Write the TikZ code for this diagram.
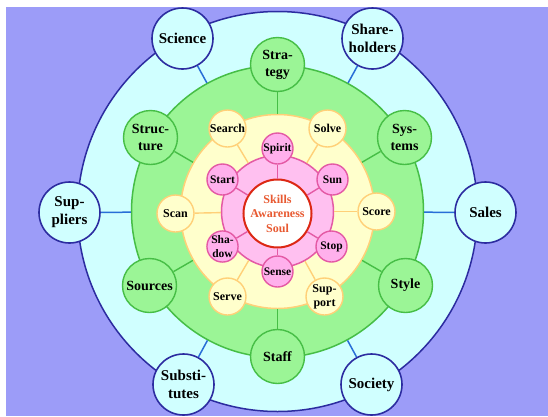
\documentclass[tikz,border=0pt]{standalone}
\usepackage{fontspec}
\setmainfont{Liberation Serif}
\definecolor{lavender}{RGB}{156,156,248}
\definecolor{skycyan}{RGB}{208,255,255}
\definecolor{navyline}{RGB}{44,44,160}
\definecolor{spokeblue}{RGB}{40,110,215}
\definecolor{leaf}{RGB}{155,245,150}
\definecolor{leafline}{RGB}{70,190,70}
\definecolor{cream}{RGB}{255,255,204}
\definecolor{creamline}{RGB}{255,208,120}
\definecolor{rose}{RGB}{255,192,240}
\definecolor{rosenode}{RGB}{255,176,236}
\definecolor{roseline}{RGB}{228,90,165}
\definecolor{soulred}{RGB}{220,40,20}
\definecolor{soultext}{RGB}{232,90,50}

\begin{document}
\begin{tikzpicture}
  [x=1pt,y=1pt,
   every node/.style={circle,inner sep=0pt,align=center},
   disk/.style={line width=1.5pt},
   outer/.style={draw=navyline,fill=skycyan,line width=1.6pt,minimum size=61pt,
     font=\bfseries\fontsize{15}{18}\selectfont},
   greennode/.style={draw=leafline,fill=leaf,line width=1.4pt,minimum size=54pt,
     font=\bfseries\fontsize{14}{17}\selectfont},
   yellownode/.style={draw=creamline,fill=cream,line width=1.4pt,minimum size=37pt,
     font=\bfseries\fontsize{12}{14}\selectfont},
   pinknode/.style={draw=roseline,fill=rosenode,line width=1.4pt,minimum size=31pt,
     font=\bfseries\fontsize{11.5}{13.5}\selectfont},
   skillsnode/.style={draw=soulred,fill=white,line width=2pt,minimum size=68pt,
     text=soultext,font=\bfseries\fontsize{12}{14.5}\selectfont}]
  \useasboundingbox (-277.5,-204.5) rectangle (270.5,211.5);
  \fill[white] (-277.5,-204.5) rectangle (270.5,211.5);
  \fill[lavender] (-271.5,-204.5) rectangle (270.5,204.5);

  \node[disk,draw=navyline,fill=skycyan,minimum size=400pt] (sky) at (0,0) {};
  \node[disk,draw=leafline,fill=leaf,minimum size=292pt] (meadow) at (0,0) {};
  \node[disk,draw=creamline,fill=cream,minimum size=194pt] (sand) at (0,0) {};
  \node[disk,draw=roseline,fill=rose,minimum size=112pt] (petal) at (0,0) {};
  \node[skillsnode] (skills) at (0,-2) {Skills\\Awareness\\Soul};

  \node[outer] (sci) at (-95,173) {Science};
  \node[outer] (share) at (95,173) {Share-\\holders};
  \node[outer] (sup) at (-208,-1) {Sup-\\pliers};
  \node[outer] (sales) at (208,-1) {Sales};
  \node[outer] (subst) at (-94,-173) {Substi-\\tutes};
  \node[outer] (soc) at (94,-173) {Society};

  \node[greennode] (strat) at (0,147) {Stra-\\tegy};
  \node[greennode] (struct) at (-127,74) {Struc-\\ture};
  \node[greennode] (sys) at (127,74) {Sys-\\tems};
  \node[greennode] (src) at (-128,-74) {Sources};
  \node[greennode] (style) at (128,-74) {Style};
  \node[greennode] (staff) at (0,-145) {Staff};

  \node[yellownode] (search) at (-50,83) {Search};
  \node[yellownode] (solve) at (50,83) {Solve};
  \node[yellownode] (scan) at (-102,-2) {Scan};
  \node[yellownode] (score) at (99,0) {Score};
  \node[yellownode] (serve) at (-50,-85) {Serve};
  \node[yellownode] (support) at (47,-85) {Sup-\\port};

  \node[pinknode] (spirit) at (0,63) {Spirit};
  \node[pinknode] (sun) at (55,32) {Sun};
  \node[pinknode] (stop) at (54,-35) {Stop};
  \node[pinknode] (sense) at (0,-60) {Sense};
  \node[pinknode] (shadow) at (-55,-35) {Sha-\\dow};
  \node[pinknode] (start) at (-55,32) {Start};

  \foreach \from/\to in {meadow/sci,meadow/share,meadow/sup,meadow/sales,meadow/subst,meadow/soc}
    \draw[spokeblue,line width=1.5pt] (\from) -- (\to);
  \foreach \from/\to in {sand/strat,sand/struct,sand/sys,sand/src,sand/style,sand/staff}
    \draw[leafline,line width=1.4pt] (\from) -- (\to);
  \foreach \from/\to in {petal/search,petal/solve,petal/scan,petal/score,petal/serve,petal/support}
    \draw[creamline,line width=1.4pt] (\from) -- (\to);
  \foreach \from/\to in {skills/spirit,skills/sun,skills/stop,skills/sense,skills/shadow,skills/start}
    \draw[roseline,line width=1.4pt] (\from) -- (\to);

\end{tikzpicture}
\end{document}
